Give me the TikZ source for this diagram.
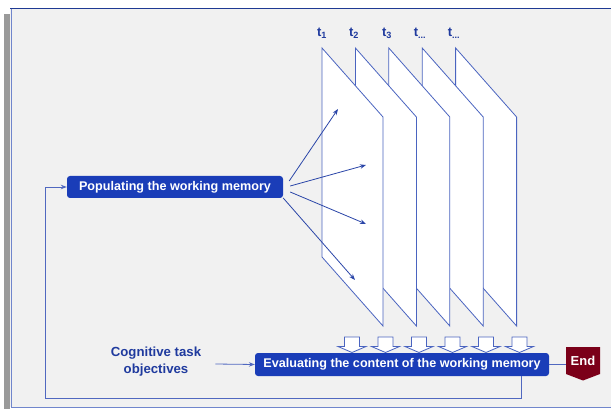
\documentclass[tikz,border=0pt]{standalone}
\usepackage{fontspec}
\setmainfont{Liberation Sans}
\usetikzlibrary{arrows.meta,calc}
\definecolor{panel}{HTML}{F1F1F1}
\definecolor{topline}{HTML}{1F3A93}
\definecolor{sideline}{HTML}{7086CC}
\definecolor{greybar}{HTML}{9A9A9A}
\definecolor{planeline}{HTML}{4A64C0}
\definecolor{boxblue}{HTML}{1A3DB8}
\definecolor{textblue}{HTML}{1F3A9E}
\definecolor{arrowblue}{HTML}{2A45A8}
\definecolor{loopblue}{HTML}{5068C0}
\definecolor{endred}{HTML}{7B0019}
\tikzset{
  bluebox/.style={fill=boxblue, rounded corners=3pt, text=white, font=\bfseries\fontsize{12.6}{14}\selectfont, inner sep=0pt},
  plane/.style={fill=white, draw=planeline, line width=0.8pt, line join=miter},
  tlabel/.style={text=textblue, font=\bfseries\fontsize{13}{15}\selectfont, inner sep=0pt},
  fan/.style={draw=arrowblue, line width=0.8pt, -{Stealth[length=6pt,width=4.5pt]}},
  looparrow/.style={draw=loopblue, line width=0.9pt},
  downarrow/.style={fill=white, draw=planeline, line width=0.8pt},
}
\begin{document}
\begin{tikzpicture}[x=1pt,y=-1pt]
\useasboundingbox (0,0) rectangle (611,409);
% frame
\fill[white] (0,0) rectangle (611,409);
\fill[greybar] (4,14) rectangle (10,409);
\fill[panel] (10,9) rectangle (611,407);
\draw[sideline, line width=1pt] (11,9) -- (11,407);
\draw[sideline, line width=0.8pt] (11,407.5) -- (611,407.5);
\draw[topline, line width=1pt] (10,9) -- (611,9);
% planes, back to front
\foreach \i in {4,3,2,1,0} {
  \pgfmathsetmacro{\xo}{322+33.4*\i}
  \draw[plane] (\xo,48) -- (\xo+61,117) -- (\xo+61,326) -- (\xo,257) -- cycle;
}
% labels
\node[tlabel] (t1) at (322,33) {t\textsubscript{1}};
\node[tlabel] (t2) at (354,33) {t\textsubscript{2}};
\node[tlabel] (t3) at (387,33) {t\textsubscript{3}};
\node[tlabel] (t4) at (420,33) {t\textsubscript{...}};
\node[tlabel] (t5) at (454,33) {t\textsubscript{...}};
% boxes
\node[bluebox, minimum width=216pt, minimum height=22pt] (pop) at (175,187) {Populating the working memory};
\node[bluebox, minimum width=294pt, minimum height=23pt] (eval) at (402,364.5) {Evaluating the content of the working memory};
% fan arrows
\coordinate (a1) at (338,109);
\coordinate (a2) at (366,165);
\coordinate (a3) at (366,224);
\coordinate (a4) at (355,280);
\draw[fan] ($(pop.east)+(6,-6)$) -- (a1);
\draw[fan] ($(pop.east)+(7,-1)$) -- (a2);
\draw[fan] ($(pop.east)+(7,5)$) -- (a3);
\draw[fan] ($(pop.east)+(0,11)$) -- (a4);
% down block arrows
\foreach \cx in {352,385.5,419,452.5,486,519.5} {
  \draw[downarrow] (\cx-7.5,337) -- (\cx+7.5,337) -- (\cx+7.5,346.5) -- (\cx+14,346.5) -- (\cx,352.5) -- (\cx-14,346.5) -- (\cx-7.5,346.5) -- cycle;
}
% cognitive objectives
\node[text=textblue, font=\bfseries\fontsize{13.2}{17}\selectfont, align=center, inner sep=1pt] (cog) at (156,362) {Cognitive task\\objectives};
\draw[fan, draw=loopblue] ($(cog.east)+(13,2)$) -- (eval.west);
% End
\fill[endred] (566,347) -- (600,347) -- (600,374) -- (583,380.5) -- (566,374) -- cycle;
\node[text=white, font=\bfseries\fontsize{13}{15}\selectfont, minimum width=34pt, minimum height=27pt, inner sep=0pt] (end) at (583,360.5) {End};
\draw[looparrow] (eval.east) -- (eval.east -| end.west);
% feedback loop
\coordinate (l1) at (521,398);
\coordinate (l2) at (45,398);
\coordinate (l3) at (45,187);
\draw[looparrow, -{Stealth[length=6pt,width=4.5pt]}] (eval.south -| l1) -- (l1) -- (l2) -- (l3) -- (pop.west);
\end{tikzpicture}
\end{document}
